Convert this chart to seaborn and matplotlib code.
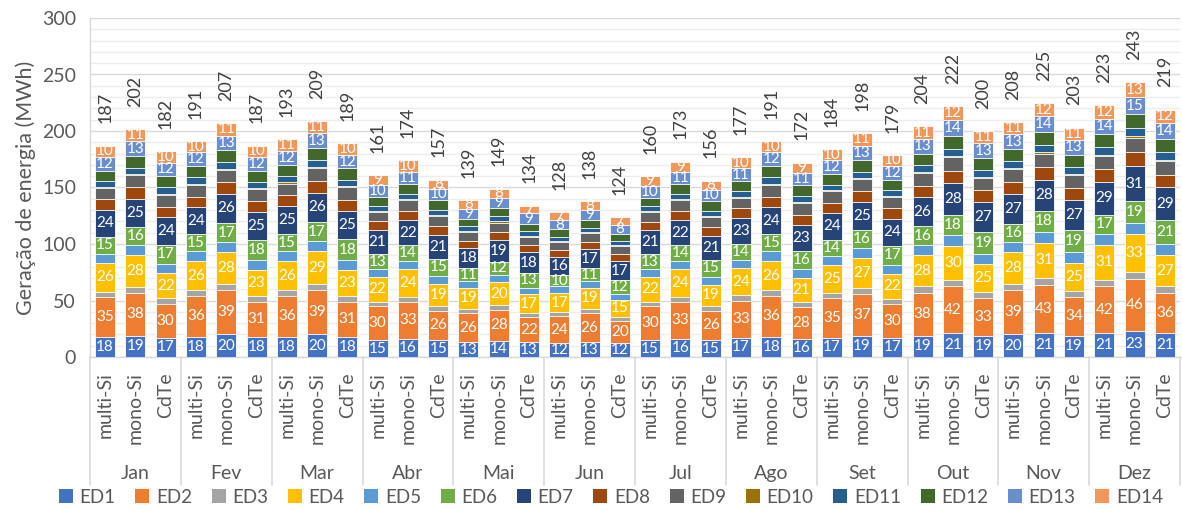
import matplotlib
matplotlib.use("Agg")
import matplotlib.pyplot as plt
import matplotlib.transforms as mtransforms
from matplotlib.patches import Patch
from matplotlib.ticker import MultipleLocator
import numpy as np
import pandas as pd
import seaborn as sns

# ---- data -------------------------------------------------------------
months = ["Jan", "Fev", "Mar", "Abr", "Mai", "Jun",
          "Jul", "Ago", "Set", "Out", "Nov", "Dez"]
techs = ["multi-Si", "mono-Si", "CdTe"]
series_names = ["ED1", "ED2", "ED3", "ED4", "ED5", "ED6", "ED7",
                "ED8", "ED9", "ED10", "ED11", "ED12", "ED13", "ED14"]

# one value per bar: month by month, multi-Si / mono-Si / CdTe
ed1 = [18, 19, 17, 18, 20, 18, 18, 20, 18, 15, 16, 15, 13, 14, 13, 12, 13, 12,
       15, 16, 15, 17, 18, 16, 17, 19, 17, 19, 21, 19, 20, 21, 19, 21, 23, 21]
ed2 = [35, 38, 30, 36, 39, 31, 36, 39, 31, 30, 33, 26, 26, 28, 22, 24, 26, 20,
       30, 33, 26, 33, 36, 28, 35, 37, 30, 38, 42, 33, 39, 43, 34, 42, 46, 36]
ed3 = [4.5, 5, 5, 5, 5.5, 5, 5, 5.5, 5, 4, 4.5, 4.5, 3.5, 4, 3.5, 3.5, 3.5, 3.5,
       4, 4.5, 4, 4.5, 5, 5, 4.5, 5, 4.5, 5.5, 5.5, 5.5, 5.5, 6, 5.5, 5.5, 6.5, 6]
ed4 = [26, 28, 22, 26, 28, 23, 26, 29, 23, 22, 24, 19, 19, 20, 17, 17, 19, 15,
       22, 24, 19, 24, 26, 21, 25, 27, 22, 28, 30, 25, 28, 31, 25, 31, 33, 27]
ed5 = [8, 9, 8.5, 8.5, 9, 8.5, 8.5, 9, 9, 7, 7.5, 7.5, 6, 6.5, 6, 6, 6, 5.5,
       7, 7.5, 7, 7.5, 8.5, 8, 8, 8.5, 8, 9, 9.5, 9, 9, 10, 9.5, 9.5, 10.5, 10]
ed6 = [15, 16, 17, 15, 17, 18, 15, 17, 18, 13, 14, 15, 11, 12, 13, 10, 11, 12,
       13, 14, 15, 14, 15, 16, 14, 16, 17, 16, 18, 19, 16, 18, 19, 17, 19, 21]
ed7 = [24, 25, 24, 24, 26, 25, 25, 26, 25, 21, 22, 21, 18, 19, 18, 16, 17, 17,
       21, 22, 21, 23, 24, 23, 24, 25, 24, 26, 28, 27, 27, 28, 27, 29, 31, 29]
ed8 = [9, 10, 9.5, 9.5, 10, 9.5, 9.5, 10.5, 10, 8, 8.5, 8, 6.5, 7.5, 6.5, 6.5, 6.5, 6.5,
       7.5, 8.5, 8, 8.5, 9.5, 9, 9, 9.5, 9, 10, 11, 10, 10.5, 11, 10.5, 11, 12, 11]
ed9 = [10, 11, 10.5, 10.5, 11, 10.5, 10.5, 11.5, 11, 8.5, 9, 9, 7.5, 8, 7.5, 7, 7.5, 7,
       8.5, 9, 9, 9.5, 10.5, 10, 10, 10.5, 10, 11, 12, 11, 11.5, 12, 11.5, 12, 13, 12.5]
ed10 = [1, 1, 1, 1, 1, 1, 1, 1, 1, 1, 1, 1, 1, 1, 1, 1, 1, 1,
        1, 1, 1, 1, 1, 1, 1, 1, 1, 1, 1, 1, 1, 1, 1, 1, 1.5, 1]
ed11 = [5, 5.5, 5.5, 5.5, 6, 5.5, 5.5, 6, 5.5, 4.5, 5, 4.5, 4, 4.5, 4, 3.5, 4, 3.5,
        4.5, 5, 4.5, 5, 5.5, 5.5, 5, 5.5, 5, 6, 6.5, 6, 6, 6.5, 6, 6.5, 7, 6.5]
ed12 = [9.5, 10.5, 10, 10, 10.5, 10, 10, 10.5, 10.5, 8, 8.5, 8.5, 6.5, 7.5, 6.5, 6.5, 6.5, 6,
        7.5, 8.5, 8.5, 9, 10, 9.5, 9.5, 10, 9.5, 10.5, 11.5, 10.5, 10.5, 11.5, 11, 11.5, 12.5, 12]
ed13 = [12, 13, 12, 12, 13, 12, 12, 13, 12, 10, 11, 10, 9, 9, 9, 8, 9, 8,
        10, 11, 10, 11, 12, 11, 12, 13, 12, 13, 14, 13, 13, 14, 13, 14, 15, 14]
ed14 = [10, 11, 10, 10, 11, 10, 11, 11, 10, 9, 10, 8, 8, 8, 7, 7, 8, 7,
        9, 9, 8, 10, 10, 9, 10, 11, 10, 11, 12, 11, 11, 12, 11, 12, 13, 12]

colors = ["#4472C4", "#ED7D31", "#A5A5A5", "#FFC000", "#5B9BD5", "#70AD47",
          "#264478", "#9E480E", "#636363", "#997300", "#255E91", "#43682B",
          "#698ED0", "#F1975A"]
labelled = {"ED1", "ED2", "ED4", "ED6", "ED7", "ED13", "ED14"}

# ---- table ------------------------------------------------------------
bar_keys = [f"{m}|{t}" for m in months for t in techs]
values = pd.DataFrame(
    dict(zip(series_names, [ed1, ed2, ed3, ed4, ed5, ed6, ed7, ed8, ed9,
                            ed10, ed11, ed12, ed13, ed14])),
    index=bar_keys)
cumulative = values.cumsum(axis=1)
totals = cumulative[series_names[-1]]

# ---- style ------------------------------------------------------------
sns.set_theme(style="white")
plt.rcParams["font.family"] = ["Lato", "DejaVu Sans"]
text_grey = "#595959"
grid_grey = "#D9D9D9"

fig = plt.figure(figsize=(11.82, 5.11), dpi=100)
ax = fig.add_axes([90 / 1182, 154 / 511, 1090 / 1182, 339 / 511])

# stacked bars: draw running totals from the top series down
for name, col in zip(reversed(series_names), reversed(colors)):
    sns.barplot(x=bar_keys, y=cumulative[name].values, order=bar_keys,
                color=col, saturation=1, width=0.66, errorbar=None,
                edgecolor="white", linewidth=0.6, ax=ax, zorder=3)

# value labels inside the labelled segments, totals above each bar
above = mtransforms.offset_copy(ax.transData, fig=fig, x=0, y=16,
                                units="points")
for i, key in enumerate(bar_keys):
    base = 0.0
    for name in series_names:
        v = values.loc[key, name]
        if name in labelled:
            ax.text(i, base + v / 2, f"{v:g}", ha="center", va="center",
                    color="white", fontsize=11, zorder=5)
        base += v
    ax.text(i, totals[key], f"{totals[key]:.0f}", transform=above,
            rotation=90, ha="center", va="bottom", color="#404040",
            fontsize=13, zorder=5)

# axes
ax.set_xlim(-0.5, len(bar_keys) - 0.5)
ax.set_ylim(0, 300)
ax.yaxis.set_major_locator(MultipleLocator(50))
ax.yaxis.set_minor_locator(MultipleLocator(10))
ax.grid(axis="y", which="major", color=grid_grey, linewidth=1.0, zorder=0)
ax.grid(axis="y", which="minor", color="#EDEDED", linewidth=1.0, zorder=0)
ax.grid(axis="x", visible=False)
ax.set_axisbelow(True)
for side in ("top", "right"):
    ax.spines[side].set_visible(False)
for side in ("left", "bottom"):
    ax.spines[side].set_color(grid_grey)
    ax.spines[side].set_linewidth(1.0)

ax.tick_params(axis="y", which="both", length=0, labelsize=14,
               labelcolor=text_grey, pad=10)
ax.set_ylabel("Geração de energia (MWh)", fontsize=15.5, color=text_grey,
              labelpad=4)
ax.set_xlabel("")
ax.set_xticks(range(len(bar_keys)))
ax.set_xticklabels([k.split("|")[1] for k in bar_keys], rotation=90,
                   va="top", ha="center")
ax.tick_params(axis="x", length=0, labelsize=14, labelcolor=text_grey, pad=11)

# month groups under the technology labels
trans = mtransforms.blended_transform_factory(ax.transData, ax.transAxes)
for g in range(len(months) + 1):
    x = g * len(techs) - 0.5
    ax.plot([x, x], [0, -0.377], transform=trans, color=grid_grey,
            linewidth=1.2, clip_on=False)
for g, m in enumerate(months):
    ax.text(g * len(techs) + 1, -0.343, m, transform=trans, ha="center",
            va="center", fontsize=14, color=text_grey)

# legend
handles = [Patch(facecolor=c, edgecolor="none", label=n)
           for n, c in zip(series_names, colors)]
fig.legend(handles=handles, ncol=14, loc="center",
           bbox_to_anchor=(611 / 1182, 1 - 497 / 511), frameon=False,
           fontsize=13.5, handlelength=0.75, handleheight=0.75,
           handletextpad=0.35, columnspacing=1.05, labelcolor=text_grey,
           borderpad=0)

fig.savefig("out.png", dpi=100)
